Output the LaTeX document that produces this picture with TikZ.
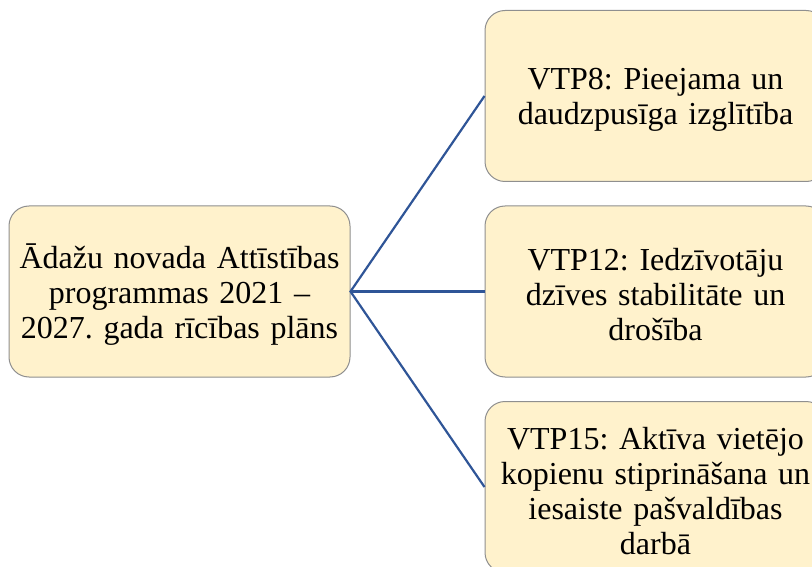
\documentclass[tikz,border=0pt]{standalone}
\usepackage{fontspec}
\setmainfont{Liberation Serif}
\frenchspacing
\definecolor{boxfill}{HTML}{FFF2CC}
\definecolor{boxline}{HTML}{8F8F8F}
\definecolor{conn}{HTML}{2F5597}
\begin{document}
\begin{tikzpicture}[x=1pt,y=-1pt,
  card/.style={draw=boxline, fill=boxfill, line width=1pt, rounded corners=20pt,
    minimum width=341pt, minimum height=171pt, inner sep=0pt},
  txt/.style={align=center, inner sep=0pt,
    font=\fontsize{32}{35}\selectfont, text width=340pt},
  link/.style={draw=conn, line width=2.2pt}]
\useasboundingbox (0,0) rectangle (812,567);
\clip (0,0) rectangle (812,567);
\node[card] (root) at (179.5,291.5) {};
\node[card] (a) at (655.5,96) {};
\node[card] (b) at (655.5,291.5) {};
\node[card] (c) at (655.5,487) {};
\node[txt] (roott) at ([yshift=-3pt]root.center) {Ādažu novada Attīstības\\programmas 2021 –\\2027. gada rīcības plāns};
\node[txt] (at) at ([yshift=-4pt]a.center) {VTP8: Pieejama un\\daudzpusīga izglītība};
\node[txt] (bt) at ([yshift=-3pt]b.center) {VTP12: Iedzīvotāju\\dzīves stabilitāte un\\drošība};
\node[txt] (ct) at ([yshift=-4pt]c.center) {VTP15: Aktīva vietējo\\kopienu stiprināšana un\\iesaiste pašvaldības\\darbā};
\draw[link] (a.west) -- (root.east) -- (c.west);
\draw[link] (root.east) -- (b.west);
\end{tikzpicture}
\end{document}
